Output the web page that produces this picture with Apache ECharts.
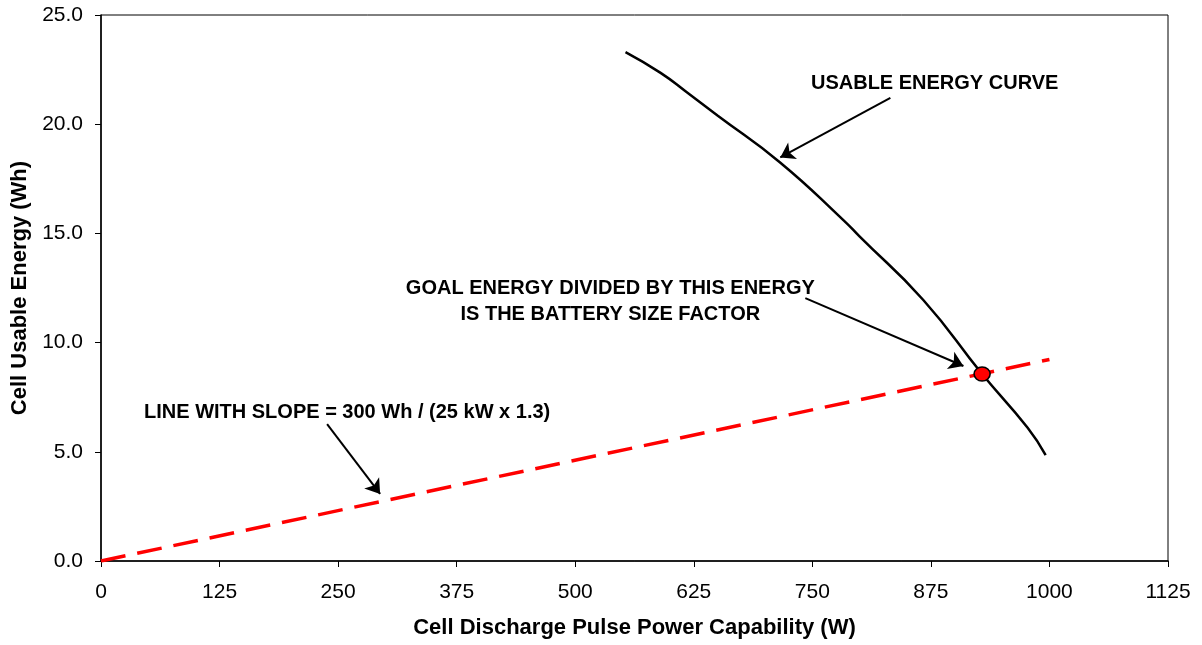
<!DOCTYPE html>
<html>
<head>
<meta charset="utf-8">
<script src="https://cdn.jsdelivr.net/npm/echarts@6/dist/echarts.min.js"></script>
<style>
html,body{margin:0;padding:0;background:#fff;}
#chart{width:1202px;height:645px;}
</style>
</head>
<body>
<div id="chart"></div>
<script>
// ---- data ----
const curvePower  = [553, 590, 618, 650, 716, 783, 800, 867, 929, 977, 996];
const curveEnergy = [23.3, 22.35, 21.45, 20.4, 18.25, 15.6, 14.85, 11.95, 8.56, 6.1, 4.85];
const slopePower  = [0, 1000];
const slopeEnergy = [0, 9.23];
const goalPoint   = [929, 8.56];
const xTicks = [0, 125, 250, 375, 500, 625, 750, 875, 1000, 1125];
const yTicks = [0, 5, 10, 15, 20, 25];
const noteTexts = [
  'USABLE ENERGY CURVE',
  'GOAL ENERGY DIVIDED BY THIS ENERGY\nIS THE BATTERY SIZE FACTOR',
  'LINE WITH SLOPE = 300 Wh / (25 kW x 1.3)'
];
const notePos = [[879, 21.85], [537, 11.86], [259.5, 6.78]];
const arrowFrom = [[832.3, 21.2], [742.6, 12.04], [238.4, 6.27]];
const arrowTo   = [[716.2, 18.48], [909.3, 8.93], [294.3, 3.07]];

const FONT = '"Liberation Sans", Arial, sans-serif';
const chart = echarts.init(document.getElementById('chart'));

chart.setOption({
  animation: false,
  backgroundColor: '#fff',
  grid: {left: 101, right: 34, top: 15, bottom: 84, show: true, borderColor: '#000', borderWidth: 1, backgroundColor: 'transparent'},
  xAxis: {
    type: 'value', min: xTicks[0], max: xTicks[xTicks.length - 1], interval: 125,
    name: 'Cell Discharge Pulse Power Capability (W)', nameLocation: 'middle', nameGap: 56,
    nameTextStyle: {fontFamily: FONT, fontSize: 22, fontWeight: 'bold', color: '#000'},
    axisLine: {show: true, onZero: false, lineStyle: {color: '#000', width: 1.5}},
    axisTick: {show: true, inside: false, length: 6, lineStyle: {color: '#000', width: 1}},
    axisLabel: {fontFamily: FONT, fontSize: 21, color: '#000', margin: 21, formatter: v => String(v)},
    splitLine: {show: false}
  },
  yAxis: {
    type: 'value', min: yTicks[0], max: yTicks[yTicks.length - 1], interval: 5,
    name: 'Cell Usable Energy (Wh)', nameLocation: 'middle', nameGap: 64, nameRotate: 90,
    nameTextStyle: {fontFamily: FONT, fontSize: 22, fontWeight: 'bold', color: '#000'},
    axisLine: {show: true, onZero: false, lineStyle: {color: '#000', width: 1.5}},
    axisTick: {show: true, inside: false, length: 6, lineStyle: {color: '#000', width: 1}},
    axisLabel: {fontFamily: FONT, fontSize: 21, color: '#000', margin: 18, formatter: v => v.toFixed(1)},
    splitLine: {show: false}
  },
  series: [
    {
      type: 'line', name: 'Usable energy',
      data: curvePower.map((p, i) => [p, curveEnergy[i]]),
      smooth: 0.5, showSymbol: false, silent: true,
      lineStyle: {color: '#000', width: 2.5}
    },
    {
      type: 'line', name: 'Slope line',
      data: slopePower.map((p, i) => [p, slopeEnergy[i]]),
      showSymbol: false, silent: true,
      lineStyle: {color: '#ff0000', width: 3.5, type: [25, 12]}
    },
    {
      type: 'lines', coordinateSystem: 'cartesian2d', silent: true,
      symbol: ['none', 'arrow'], symbolSize: [11, 14],
      lineStyle: {color: '#000', width: 2, curveness: 0, opacity: 1},
      data: arrowFrom.map((f, i) => ({coords: [f, arrowTo[i]]}))
    },
    {
      type: 'scatter', silent: true, symbolSize: 0,
      itemStyle: {opacity: 1},
      data: notePos.map((p, i) => ({value: p, name: noteTexts[i]})),
      label: {
        show: true, position: 'inside', formatter: p => p.name,
        fontFamily: FONT, fontSize: 20, fontWeight: 'bold', color: '#000', opacity: 1,
        textBorderWidth: 0, lineHeight: 26, align: 'center', verticalAlign: 'middle'
      }
    },
    {
      type: 'scatter', silent: true, z: 5,
      data: [goalPoint],
      symbol: 'circle', symbolSize: [16, 14],
      itemStyle: {color: '#ff0000', borderColor: '#000', borderWidth: 1.5, opacity: 1}
    }
  ]
});
</script>
</body>
</html>
